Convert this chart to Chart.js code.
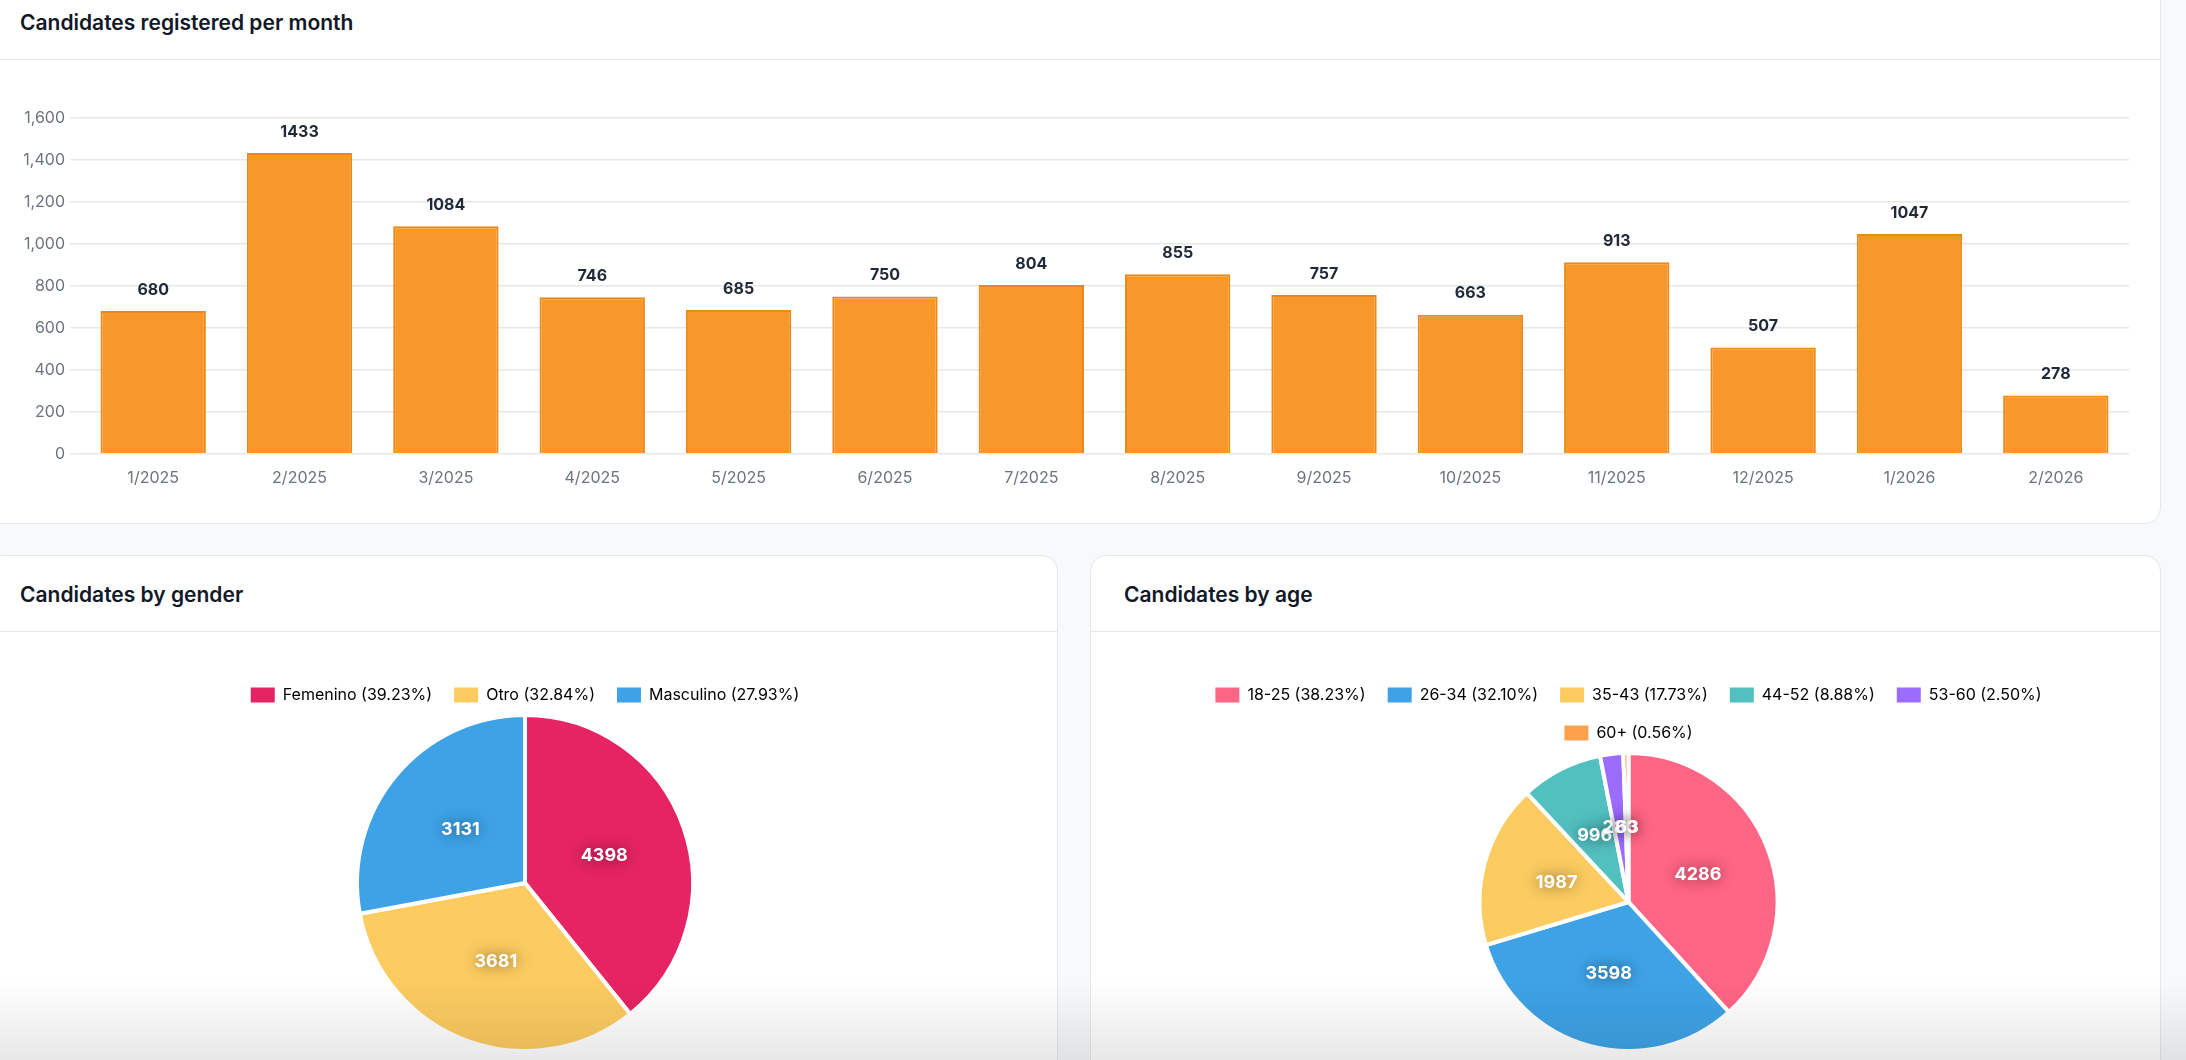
<!DOCTYPE html>
<html>
<head>
<meta charset="utf-8">
<script src="https://cdn.jsdelivr.net/npm/chart.js@4.4.1/dist/chart.umd.min.js"></script>
<style>
  html, body { margin: 0; padding: 0; }
  body {
    width: 2186px; height: 1060px; overflow: hidden; position: relative;
    background: #f8f9fb; font-family: Inter, "Noto Sans", sans-serif;
  }
  .card {
    position: absolute; background: #fff; border: 1px solid #e5e7eb;
    border-radius: 16px; box-sizing: border-box;
  }
  .card h2 {
    position: absolute; margin: 0; left: 33px; top: 26px;
    font-size: 21px; font-weight: 600; color: #111827; line-height: 26px;
  }
  .card .sep { position: absolute; left: 0; right: 0; top: 75px; border-top: 1px solid #e5e7eb; }
  .box { position: absolute; }
  #fade {
    position: absolute; left: 0; right: 0; bottom: 0; height: 80px; pointer-events: none;
    background: linear-gradient(to bottom, rgba(0,0,0,0), rgba(0,0,0,0.09));
  }
</style>
</head>
<body>
<div class="card" style="left:-14px; top:-17px; width:2175px; height:541px;">
  <h2>Candidates registered per month</h2>
  <div class="sep"></div>
</div>
<div class="card" style="left:-14px; top:555px; width:1072px; height:560px;">
  <h2>Candidates by gender</h2>
  <div class="sep"></div>
</div>
<div class="card" style="left:1090px; top:555px; width:1071px; height:560px;">
  <h2>Candidates by age</h2>
  <div class="sep"></div>
</div>

<div class="box" style="left:19px; top:70px; width:2110px; height:433px;"><canvas id="months"></canvas></div>
<div class="box" style="left:22px; top:665px; width:1006px; height:388px;"><canvas id="gender"></canvas></div>
<div class="box" style="left:1126px; top:665px; width:1005px; height:388px;"><canvas id="age"></canvas></div>
<div id="fade"></div>

<script>
const monthLabels = ["1/2025", "2/2025", "3/2025", "4/2025", "5/2025", "6/2025", "7/2025",
  "8/2025", "9/2025", "10/2025", "11/2025", "12/2025", "1/2026", "2/2026"];
const monthValues = [680, 1433, 1084, 746, 685, 750, 804, 855, 757, 663, 913, 507, 1047, 278];

const genderLabels = ["Femenino", "Otro", "Masculino"];
const genderValues = [4398, 3681, 3131];
const genderColors = ["#e62463", "#fccc61", "#3ea3e6"];

const ageLabels = ["18-25", "26-34", "35-43", "44-52", "53-60", "60+"];
const ageValues = [4286, 3598, 1987, 996, 280, 63];
const ageColors = ["#ff6584", "#3ea3e6", "#fccc61", "#52c0bf", "#9c6bff", "#ffa04b"];

Chart.defaults.font.family = "Inter, 'Noto Sans', sans-serif";
Chart.defaults.color = "#6b7280";
Chart.defaults.animation = false;

// value above each bar
const barValues = {
  id: "barValues",
  afterDatasetsDraw(chart) {
    const ctx = chart.ctx;
    ctx.save();
    ctx.font = "bold 16px Inter, 'Noto Sans', sans-serif";
    ctx.fillStyle = "#1f2937";
    ctx.textAlign = "center";
    ctx.textBaseline = "middle";
    chart.getDatasetMeta(0).data.forEach((bar, i) => {
      ctx.fillText(chart.data.datasets[0].data[i], bar.x, bar.y - 21);
    });
    ctx.restore();
  }
};

// white value in the middle of each slice
const sliceValues = {
  id: "sliceValues",
  afterDatasetsDraw(chart) {
    const ctx = chart.ctx;
    ctx.save();
    ctx.font = "bold 18px Inter, 'Noto Sans', sans-serif";
    ctx.fillStyle = "#fff";
    ctx.textAlign = "center";
    ctx.textBaseline = "middle";
    ctx.shadowColor = "rgba(0,0,0,0.55)";
    ctx.shadowBlur = 14;
    chart.getDatasetMeta(0).data.forEach((arc, i) => {
      const p = arc.tooltipPosition();
      ctx.fillText(chart.data.datasets[0].data[i], p.x, p.y);
    });
    ctx.restore();
  }
};

new Chart(document.getElementById("months"), {
  type: "bar",
  data: {
    labels: monthLabels,
    datasets: [{
      data: monthValues,
      backgroundColor: "#f9982a",
      borderColor: "#e8891c",
      borderWidth: 2
    }]
  },
  options: {
    responsive: true,
    maintainAspectRatio: false,
    layout: { padding: { top: 48 } },
    plugins: { legend: { display: false }, tooltip: { enabled: false } },
    scales: {
      x: {
        grid: { display: false, drawTicks: false },
        border: { display: false },
        ticks: { padding: 15, font: { size: 16 }, color: "#6b7280" }
      },
      y: {
        beginAtZero: true,
        max: 1600,
        ticks: { stepSize: 200, padding: 5, font: { size: 16 }, color: "#6b7280" },
        grid: { color: "#e7e8ec", lineWidth: 1.5, tickLength: 10 },
        border: { display: false },
        afterFit(axis) { axis.width = 61; }
      }
    }
  },
  plugins: [barValues]
});

function pieConfig(labels, values, colors) {
  const total = values.reduce((a, b) => a + b, 0);
  return {
    type: "pie",
    data: {
      labels: labels,
      datasets: [{ data: values, backgroundColor: colors, borderColor: "#fff", borderWidth: 4 }]
    },
    options: {
      responsive: true,
      maintainAspectRatio: false,
      plugins: {
        tooltip: { enabled: false },
        legend: {
          position: "top",
          labels: {
            boxWidth: 24,
            boxHeight: 15,
            padding: 22,
            color: "#6b7280",
            font: { size: 16 },
            generateLabels(chart) {
              return labels.map((l, i) => ({
                text: l + " (" + (values[i] / total * 100).toFixed(2) + "%)",
                fillStyle: colors[i],
                strokeStyle: "#fff",
                lineWidth: 0,
                index: i
              }));
            }
          }
        }
      }
    },
    plugins: [sliceValues]
  };
}

new Chart(document.getElementById("gender"), pieConfig(genderLabels, genderValues, genderColors));
new Chart(document.getElementById("age"), pieConfig(ageLabels, ageValues, ageColors));
</script>
</body>
</html>
